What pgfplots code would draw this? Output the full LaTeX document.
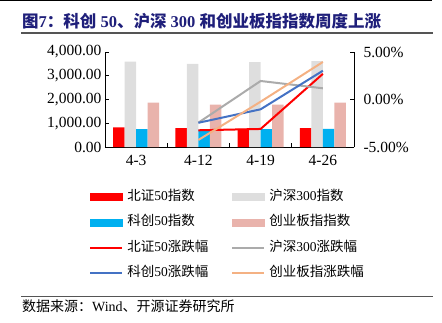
\documentclass[border=0pt]{standalone}
\usepackage{fontspec}
\setmainfont{Liberation Serif}
\newfontfamily\cjk{Noto Sans CJK SC}
\usepackage{pgfplots}
\pgfplotsset{compat=1.18}
\definecolor{cRed}{HTML}{FF0000}
\definecolor{cGray}{HTML}{DEDEDE}
\definecolor{cBlue}{HTML}{00B0F0}
\definecolor{cPink}{HTML}{E9B3AC}
\definecolor{lGray}{HTML}{ABABAB}
\definecolor{lBlue}{HTML}{4472C4}
\definecolor{lOrange}{HTML}{F4B183}
\definecolor{titleblue}{HTML}{1F1F7A}
\definecolor{rule}{HTML}{555555}
\begin{document}
\begin{tikzpicture}[x=1pt,y=1pt]
\useasboundingbox (0,0) rectangle (442,-322);
\draw[black,line width=1.2pt] (0,-0.6) -- (432,-0.6);
\node[anchor=base west, inner sep=0, text=titleblue, font=\fontsize{16.5}{16.5}\selectfont\bfseries] at (22,-27) {{\cjk 图}7{\cjk ：科创} 50{\cjk 、沪深} 300 {\cjk 和创业板指指数周度上涨}};
\draw[rule, line width=1.2pt] (21,-33) -- (433,-33);

\begin{axis}[at={(105pt,-147pt)}, anchor=south west, scale only axis,
  width=249pt, height=95pt,
  xmin=-0.5, xmax=3.5, ymin=0, ymax=4000,
  axis x line*=bottom, axis y line*=left,
  axis line style={black, line width=0.8pt},
  tick align=inside, major tick length=4pt,
  tick style={black, line width=0.8pt},
  xtick={0.5,1.5,2.5}, xticklabels={,,},
  extra x ticks={0,1,2,3}, extra x tick labels={4-3,4-12,4-19,4-26},
  extra x tick style={major tick length=0pt, xticklabel style={yshift=-5pt}},
  ytick={0,1000,2000,3000,4000},
  yticklabels={0.00,{1,000.00},{2,000.00},{3,000.00},{4,000.00}},
  tick label style={font=\fontsize{15.5}{15.5}\selectfont},
  clip=false]
\addplot[ybar, bar width=0.184, bar shift=-0.276, fill=cRed, draw=none] coordinates {(0,829)(1,800)(2,760)(3,800)};
\addplot[ybar, bar width=0.184, bar shift=-0.092, fill=cGray, draw=none] coordinates {(0,3592)(1,3495)(2,3579)(3,3621)};
\addplot[ybar, bar width=0.184, bar shift=0.092, fill=cBlue, draw=none] coordinates {(0,758)(1,730)(2,750)(3,765)};
\addplot[ybar, bar width=0.184, bar shift=0.276, fill=cPink, draw=none] coordinates {(0,1866)(1,1783)(2,1783)(3,1866)};
\end{axis}

\begin{axis}[at={(105pt,-147pt)}, anchor=south west, scale only axis,
  width=249pt, height=95pt,
  xmin=-0.5, xmax=3.5, ymin=-5, ymax=5,
  axis x line=none, axis y line*=right,
  axis line style={black, line width=0.8pt},
  tick align=inside, major tick length=4pt,
  tick style={black, line width=0.8pt},
  ytick={-5,0,5}, yticklabels={-5.00\%,0.00\%,5.00\%},
  tick label style={font=\fontsize{15.5}{15.5}\selectfont},
  yticklabel style={xshift=6pt},
  legend columns=2, legend cell align=left,
  legend image code/.code={\draw[#1] (0pt,0pt) -- (32pt,0pt);},
  legend style={at={(axis description cs:-0.064,-0.453)}, anchor=north west,
    draw=none, fill=none, inner sep=0pt, row sep=12.5pt,
    font=\fontsize{13.5}{13.5}\selectfont,
    /tikz/every even column/.append style={column sep=19pt},
    nodes={inner xsep=4pt, inner ysep=0pt, text height=10pt, text depth=3pt}}]
\addlegendimage{legend image code/.code={\fill[cRed] (0pt,-3.5pt) rectangle (32pt,3.5pt);}}
\addlegendentry{{\cjk 北证}50{\cjk 指数}}
\addlegendimage{legend image code/.code={\fill[cGray] (0pt,-3.5pt) rectangle (32pt,3.5pt);}}
\addlegendentry{{\cjk 沪深}300{\cjk 指数}}
\addlegendimage{legend image code/.code={\fill[cBlue] (0pt,-3.5pt) rectangle (32pt,3.5pt);}}
\addlegendentry{{\cjk 科创}50{\cjk 指数}}
\addlegendimage{legend image code/.code={\fill[cPink] (0pt,-3.5pt) rectangle (32pt,3.5pt);}}
\addlegendentry{{\cjk 创业板指指数}}
\addplot[cRed, line width=2pt] coordinates {(1,-3.24)(2,-3.1)(3,2.7)};
\addlegendentry{{\cjk 北证}50{\cjk 涨跌幅}}
\addplot[lGray, line width=2pt] coordinates {(1,-2.44)(2,1.95)(3,1.18)};
\addlegendentry{{\cjk 沪深}300{\cjk 涨跌幅}}
\addplot[lBlue, line width=2pt] coordinates {(1,-2.45)(2,-1.03)(3,3.03)};
\addlegendentry{{\cjk 科创}50{\cjk 涨跌幅}}
\addplot[lOrange, line width=2pt] coordinates {(1,-4.26)(2,-0.23)(3,3.95)};
\addlegendentry{{\cjk 创业板指涨跌幅}}
\end{axis}

\draw[rule, line width=1pt] (21,-296) -- (433,-296);
\node[anchor=base west, inner sep=0, font=\fontsize{14}{14}\selectfont] at (22,-311) {{\cjk 数据来源：}Wind{\cjk 、开源证券研究所}};
\end{tikzpicture}
\end{document}
